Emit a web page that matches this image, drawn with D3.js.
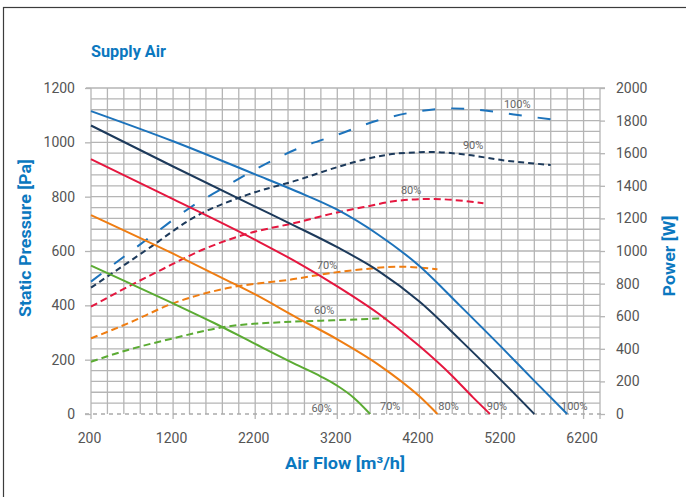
<!DOCTYPE html>
<html>
<head>
<meta charset="utf-8">
<script src="https://cdn.jsdelivr.net/npm/d3@7"></script>
<style>
  html, body { margin: 0; padding: 0; background: #fff; }
  svg { display: block; font-family: Roboto, "DejaVu Sans", sans-serif; }
</style>
</head>
<body>
<svg id="chart" width="686" height="497"></svg>
<script>
// ---------- data ----------
const flowTicks = [200, 1200, 2200, 3200, 4200, 5200, 6200];
const pressureTicks = [0, 200, 400, 600, 800, 1000, 1200];
const powerTicks = [0, 200, 400, 600, 800, 1000, 1200, 1400, 1600, 1800, 2000];
const speeds = ["100%", "90%", "80%", "70%", "60%"];

// static pressure curves [air flow m3/h, Pa]
const pressure100 = [[200,1115],[1200,1004],[2200,882],[2700,820],[3200,752],[3700,660],[4200,545],[4700,397],[5200,246],[5600,122],[6000,0]];
const pressure90  = [[200,1062],[1200,911],[2200,763],[2700,690],[3200,614],[3700,527],[4200,414],[4700,272],[5200,123],[5600,0]];
const pressure80  = [[200,938],[1200,791],[2200,641],[2700,560],[3200,470],[3700,370],[4200,250],[4600,140],[4850,62],[5060,0]];
const pressure70  = [[200,732],[1200,590],[1850,493],[2200,440],[2700,356],[3200,275],[3700,182],[4200,65],[4420,0]];
const pressure60  = [[200,546],[700,477],[1200,407],[1700,335],[2200,258],[2700,182],[3000,138],[3200,104],[3400,60],[3600,0]];

// power curves [air flow m3/h, W]
const power100 = [[200,812],[600,965],[1000,1116],[1400,1264],[1800,1384],[2200,1500],[2700,1624],[3200,1713],[3700,1802],[4200,1858],[4600,1875],[5000,1862],[5400,1834],[5800,1808]];
const power90  = [[200,775],[900,1015],[1450,1205],[2100,1344],[2750,1440],[3150,1507],[3550,1564],[3950,1599],[4350,1607],[4800,1589],[5200,1558],[5800,1528]];
const power80  = [[200,658],[650,781],[1050,883],[1550,1006],[2050,1098],[2750,1180],[3150,1231],[3550,1272],[3950,1309],[4350,1319],[4980,1293]];
const power70  = [[200,464],[650,556],[1200,679],[1850,771],[2650,826],[3150,867],[3550,890],[3950,904],[4420,888]];
const power60  = [[200,321],[650,393],[1200,464],[1850,536],[2650,566],[3150,575],[3800,587]];

// curve labels: power labels [flow, W], pressure labels [flow, Pa]
const powerLabelPos = [[5230,1877],[4730,1626],[3975,1350],[2950,890],[2915,614]];
const pressureLabelPos = [[5925,14],[5020,14],[4430,14],[3720,14],[2885,8]];

// ---------- layout ----------
const colors = ["#1d73bb", "#1d3a5b", "#e5173f", "#ef7d12", "#5bab33"];
const dashes = ["13,16", "6,4", "7,4", "7,4", "7,4"];
const pressureSeries = [pressure100, pressure90, pressure80, pressure70, pressure60];
const powerSeries = [power100, power90, power80, power70, power60];

const svg = d3.select("#chart");
const mLeft = 91, mRight = 600, mTop = 88, mBottom = 414;

const x = d3.scaleLinear().domain([200, 6400]).range([mLeft, mRight]);
const yP = d3.scaleLinear().domain([0, 1200]).range([mBottom, mTop]);
const yW = d3.scaleLinear().domain([0, 2000]).range([mBottom, mTop]);

// frame
svg.append("rect").attr("x", 3.5).attr("y", 7.5).attr("width", 900).attr("height", 900)
  .attr("fill", "none").attr("stroke", "#3c3c3c").attr("stroke-width", 1.2);

// title
svg.append("text").attr("x", 91).attr("y", 57).text("Supply Air")
  .attr("fill", "#0b78bf").attr("font-weight", "bold").attr("font-size", 17)
  .attr("textLength", 75).attr("lengthAdjust", "spacingAndGlyphs");

const gridColor = "#b5b5b5";
const grid = svg.append("g");
// vertical grid lines every 200 m3/h
d3.range(200, 6401, 200).forEach(v => {
  const major = flowTicks.includes(v);
  grid.append("line").attr("x1", x(v)).attr("x2", x(v))
    .attr("y1", mTop).attr("y2", (major || v === 6400) ? mBottom + 5 : mBottom)
    .attr("stroke", gridColor).attr("stroke-width", 1.3);
});
// horizontal grid lines every 40 Pa
d3.range(40, 1201, 40).forEach(v => {
  grid.append("line").attr("x1", v === 1200 ? mLeft - 5 : mLeft).attr("x2", v === 1200 ? mRight + 5 : mRight)
    .attr("y1", yP(v)).attr("y2", yP(v))
    .attr("stroke", gridColor).attr("stroke-width", 1.3);
});
// zero line dashed
grid.append("line").attr("x1", mLeft - 6).attr("x2", mRight + 5)
  .attr("y1", yP(0)).attr("y2", yP(0))
  .attr("stroke", "#aaaaaa").attr("stroke-width", 1.3).attr("stroke-dasharray", "4,4");

// axes
const tickFont = g => {
  g.select(".domain").remove();
  g.selectAll(".tick line").attr("stroke", gridColor).attr("stroke-width", 1.3);
  g.selectAll(".tick text").attr("fill", "#555").attr("font-size", 14).attr("font-family", "Roboto, sans-serif");
};
svg.append("g").attr("transform", `translate(0,${mBottom})`)
  .call(d3.axisBottom(x).tickValues(flowTicks).tickSize(0).tickPadding(19).tickFormat(d3.format("d")))
  .call(tickFont)
  .selectAll(".tick text").attr("dx", -2);
svg.append("g").attr("transform", `translate(${mLeft},0)`)
  .call(d3.axisLeft(yP).tickValues(pressureTicks).tickSize(6).tickPadding(10).tickFormat(d3.format("d")))
  .call(tickFont);
svg.append("g").attr("transform", `translate(${mRight},0)`)
  .call(d3.axisRight(yW).tickValues(powerTicks).tickSize(5).tickPadding(11).tickFormat(d3.format("d")))
  .call(tickFont);

// axis titles
svg.append("text").attr("transform", "translate(31,238) rotate(-90)").attr("text-anchor", "middle")
  .text("Static Pressure [Pa]").attr("fill", "#0b78bf").attr("font-weight", "bold").attr("font-size", 17)
  .attr("textLength", 158).attr("lengthAdjust", "spacingAndGlyphs");
svg.append("text").attr("transform", "translate(675,256) rotate(-90)").attr("text-anchor", "middle")
  .text("Power [W]").attr("fill", "#0b78bf").attr("font-weight", "bold").attr("font-size", 17)
  .attr("textLength", 81).attr("lengthAdjust", "spacingAndGlyphs");
svg.append("text").attr("x", 345).attr("y", 469).attr("text-anchor", "middle")
  .text("Air Flow [m³/h]").attr("fill", "#0b78bf").attr("font-weight", "bold").attr("font-size", 17)
  .attr("textLength", 120).attr("lengthAdjust", "spacingAndGlyphs");

// curves
const lineP = d3.line().x(d => x(d[0])).y(d => yP(d[1])).curve(d3.curveMonotoneX);
const lineW = d3.line().x(d => x(d[0])).y(d => yW(d[1])).curve(d3.curveMonotoneX);

powerSeries.forEach((s, i) => {
  svg.append("path").attr("d", lineW(s)).attr("fill", "none")
    .attr("stroke", colors[i]).attr("stroke-width", 2).attr("stroke-dasharray", dashes[i]);
});
pressureSeries.forEach((s, i) => {
  svg.append("path").attr("d", lineP(s)).attr("fill", "none")
    .attr("stroke", colors[i]).attr("stroke-width", 2);
});

// labels
speeds.forEach((t, i) => {
  svg.append("text").attr("x", x(powerLabelPos[i][0])).attr("y", yW(powerLabelPos[i][1]))
    .text(t).attr("fill", "#666").attr("font-size", 11);
  svg.append("text").attr("x", x(pressureLabelPos[i][0])).attr("y", yP(pressureLabelPos[i][1]))
    .text(t).attr("fill", "#666").attr("font-size", 11);
});
</script>
</body>
</html>
